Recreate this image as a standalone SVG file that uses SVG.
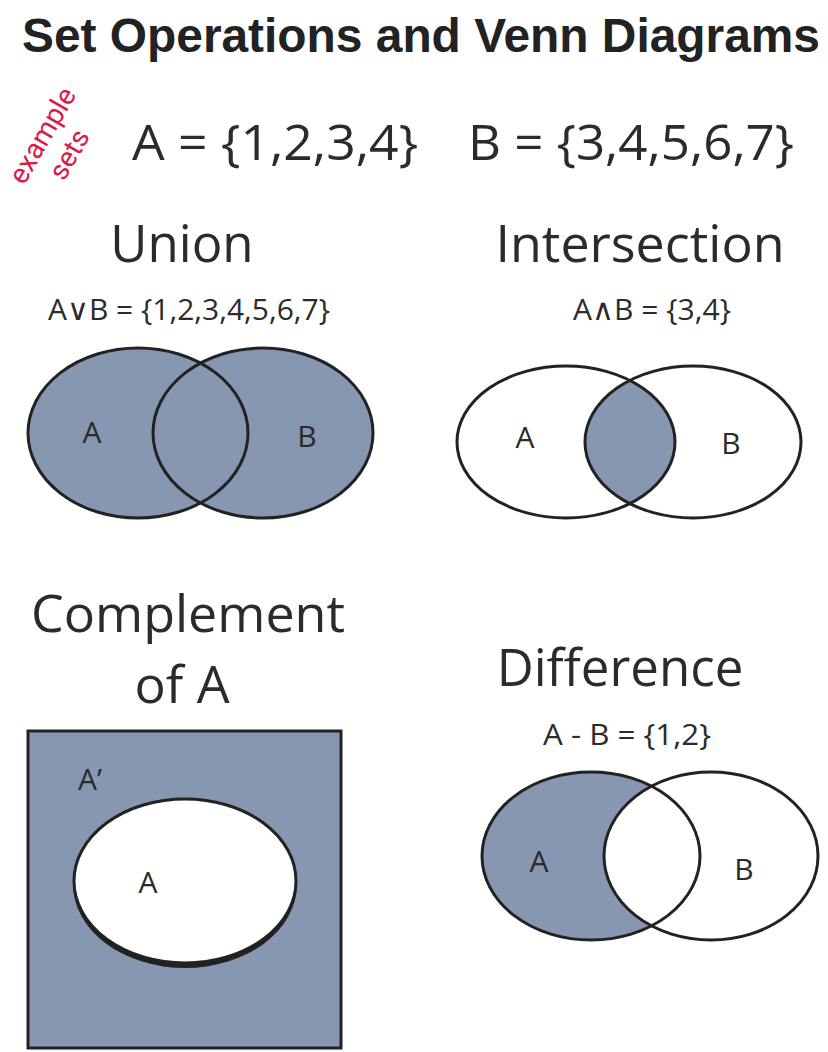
<svg xmlns="http://www.w3.org/2000/svg" width="828" height="1052" viewBox="0 0 828 1052">
<style>
.t{font-family:"Open Sans","Liberation Sans",sans-serif;fill:#2b2b2b}
.o{stroke:#222;stroke-width:3;fill:none}
.f{fill:#8796b1}
</style>
<defs>
<clipPath id="ciA"><ellipse cx="566" cy="442" rx="109" ry="76"/></clipPath>
</defs>
<rect width="828" height="1052" fill="#fff"/>
<text x="421" y="52" text-anchor="middle" textLength="798" lengthAdjust="spacingAndGlyphs" font-family="Liberation Sans,Arial,sans-serif" font-weight="bold" font-size="48" fill="#222">Set Operations and Venn Diagrams</text>
<g id="example" font-family="Roboto,Liberation Sans,sans-serif" font-size="28" fill="#d81b4a">
<text transform="translate(24 186) rotate(-60)">example</text>
<text transform="translate(64 182) rotate(-60)">sets</text>
</g>
<text class="t" x="132" y="160" font-size="50" textLength="286" lengthAdjust="spacingAndGlyphs">A = {1,2,3,4}</text>
<text class="t" x="468" y="160" font-size="50" textLength="326" lengthAdjust="spacingAndGlyphs">B = {3,4,5,6,7}</text>
<g id="union">
<text class="t" x="182" y="262" font-size="51" text-anchor="middle">Union</text>
<text class="t" x="48" y="320" font-size="30" textLength="282" lengthAdjust="spacingAndGlyphs">A∨B = {1,2,3,4,5,6,7}</text>
<ellipse class="f" cx="138" cy="433" rx="110" ry="85"/>
<ellipse class="f" cx="263" cy="433" rx="110" ry="85"/>
<ellipse class="o" cx="138" cy="433" rx="110" ry="85"/>
<ellipse class="o" cx="263" cy="433" rx="110" ry="85"/>
<text class="t" x="92" y="443" font-size="30" text-anchor="middle">A</text>
<text class="t" x="307" y="447" font-size="30" text-anchor="middle">B</text>
</g>
<g id="intersection">
<text class="t" x="640" y="262" font-size="52" text-anchor="middle">Intersection</text>
<text class="t" x="573" y="320" font-size="30" textLength="158" lengthAdjust="spacingAndGlyphs">A∧B = {3,4}</text>
<ellipse class="f" cx="693" cy="442" rx="108" ry="76" clip-path="url(#ciA)"/>
<ellipse class="o" cx="566" cy="442" rx="109" ry="76"/>
<ellipse class="o" cx="693" cy="442" rx="108" ry="76"/>
<text class="t" x="525" y="448" font-size="30" text-anchor="middle">A</text>
<text class="t" x="731" y="454" font-size="30" text-anchor="middle">B</text>
</g>
<g id="complement">
<text class="t" x="188" y="632" font-size="52" text-anchor="middle">Complement</text>
<text class="t" x="182" y="703" font-size="52" text-anchor="middle">of A</text>
<rect class="f" x="28" y="731" width="313" height="317" stroke="#222" stroke-width="3"/>
<ellipse cx="185" cy="884" rx="112" ry="84" fill="#222"/>
<ellipse cx="185" cy="881" rx="111" ry="82" fill="#fff" stroke="#222" stroke-width="3"/>
<text class="t" x="90" y="790" font-size="30" text-anchor="middle">A’</text>
<text class="t" x="148" y="893" font-size="30" text-anchor="middle">A</text>
</g>
<g id="difference">
<text class="t" x="620" y="686" font-size="51" text-anchor="middle">Difference</text>
<text class="t" x="543" y="745" font-size="30" textLength="168" lengthAdjust="spacingAndGlyphs">A -  B = {1,2}</text>
<ellipse class="f" cx="591" cy="856" rx="109" ry="84"/>
<ellipse cx="711" cy="856" rx="107" ry="84" fill="#fff"/>
<ellipse class="o" cx="591" cy="856" rx="109" ry="84"/>
<ellipse class="o" cx="711" cy="856" rx="107" ry="84"/>
<text class="t" x="539" y="872" font-size="30" text-anchor="middle">A</text>
<text class="t" x="744" y="880" font-size="30" text-anchor="middle">B</text>
</g>
</svg>
